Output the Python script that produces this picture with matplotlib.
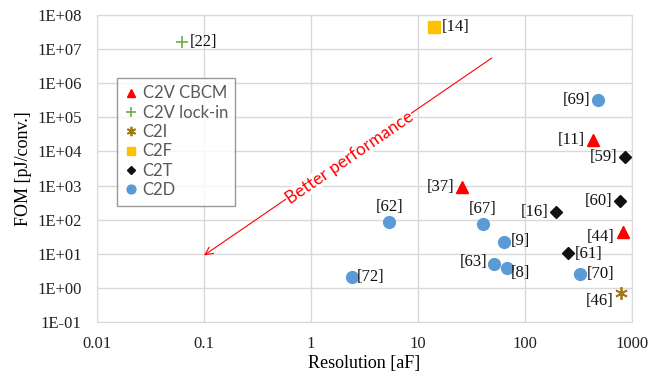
import numpy as np
import matplotlib
matplotlib.use("Agg")
import matplotlib.pyplot as plt

plt.rcParams.update({
    "font.family": "Liberation Serif",
    "font.size": 11,
})

# ---------------- data ----------------
cbcm_x = [432, 25.8, 824]
cbcm_y = [2.2e4, 900, 43]
cbcm_lbl = ["[11]", "[37]", "[44]"]

lockin_x = [0.062]
lockin_y = [1.6e7]
lockin_lbl = ["[22]"]

c2i_x = [790]
c2i_y = [0.7]
c2i_lbl = ["[46]"]

c2f_x = [14.0]
c2f_y = [4.6e7]
c2f_lbl = ["[14]"]

c2t_x = [860, 780, 195, 250]
c2t_y = [6.9e3, 354, 166, 10.5]
c2t_lbl = ["[59]", "[60]", "[16]", "[61]"]

c2d_x = [480, 5.4, 40.5, 63, 51, 68, 2.4, 330]
c2d_y = [3.2e5, 85, 74, 22, 5.0, 3.8, 2.1, 2.5]
c2d_lbl = ["[69]", "[62]", "[67]", "[9]", "[63]", "[8]", "[72]", "[70]"]

# label placement: (dx, dy) in pixels, horizontal alignment
lbl_pos = {
    "[22]": (8, 0, "left"), "[14]": (8, 0, "left"), "[69]": (-8, 0, "right"),
    "[11]": (-8, 0, "right"), "[59]": (-8, 0, "right"), "[37]": (-8, 0, "right"),
    "[60]": (-8, 0, "right"), "[16]": (-8, 0, "right"), "[62]": (0, 15, "center"),
    "[67]": (0, 15, "center"), "[44]": (-8, -5, "right"), "[9]": (7, 1, "left"),
    "[61]": (7, -1, "left"), "[63]": (-6, 2, "right"), "[8]": (4, -5, "left"),
    "[72]": (5, 0, "left"), "[70]": (6, 0, "left"), "[46]": (-8, -8, "right"),
}

series = [
    (cbcm_x, cbcm_y, cbcm_lbl, "C2V CBCM", dict(marker="^", color="#FF0000", ms=8)),
    (lockin_x, lockin_y, lockin_lbl, "C2V lock-in", dict(marker="+", color="#70AD47", ms=9, mew=1.2)),
    (c2i_x, c2i_y, c2i_lbl, "C2I", dict(marker=(6, 2, 0), color="#A07A1A", ms=9, mew=1.3)),
    (c2f_x, c2f_y, c2f_lbl, "C2F", dict(marker="s", color="#FFC000", ms=8)),
    (c2t_x, c2t_y, c2t_lbl, "C2T", dict(marker="D", color="#111111", ms=6)),
    (c2d_x, c2d_y, c2d_lbl, "C2D", dict(marker="o", color="#5B9BD5", ms=8.5)),
]

# arrow ends and text anchor
arrow_start = (49, 5.5e6)
arrow_end = (0.1, 9)
arrow_text_at = (2.3, 6500)

# ---------------- plot ----------------
fig = plt.figure(figsize=(6.67, 3.75), dpi=100)
ax = fig.add_axes([0.1454, 0.1413, 0.8021, 0.8187])
ax.set_xscale("log")
ax.set_yscale("log")
ax.set_xlim(0.01, 1000)
ax.set_ylim(0.1, 1e8)

ax.grid(True, which="major", color="#D9D9D9", lw=1.0)
ax.set_axisbelow(True)
for s in ax.spines.values():
    s.set_color("#D9D9D9")
ax.tick_params(which="both", length=0, labelsize=12, colors="#222222")
ax.tick_params(axis="y", pad=11)
ax.tick_params(axis="x", pad=10)
ax.minorticks_off()

xt = [0.01, 0.1, 1, 10, 100, 1000]
ax.set_xticks(xt)
ax.set_xticklabels(["0.01", "0.1", "1", "10", "100", "1000"])
yt = [10.0 ** k for k in range(-1, 9)]
ax.set_yticks(yt)
ax.set_yticklabels(["1E%+03d" % k for k in range(-1, 9)])

for xs, ys, lbls, name, st in series:
    ax.plot(xs, ys, ls="none", label=name, mec=st["color"], mfc=st["color"],
            marker=st["marker"], ms=st["ms"], mew=st.get("mew", 1.0), zorder=3)
    for x, y, t in zip(xs, ys, lbls):
        dx, dy, ha = lbl_pos[t]
        ax.annotate(t, (x, y), xytext=(dx, dy), textcoords="offset pixels",
                    ha=ha, va="center", fontsize=12, color="#111111")

ax.annotate("", xy=arrow_end, xytext=arrow_start,
            arrowprops=dict(arrowstyle="->", color="#FF0000", lw=0.8,
                            mutation_scale=14, shrinkA=0, shrinkB=0))
ax.text(*arrow_text_at, "Better performance", rotation=34.4, rotation_mode="anchor",
        ha="center", va="center", color="#FF0000", fontsize=12.5, family="Lato",
        bbox=dict(fc="white", ec="none", pad=0.3), zorder=4)

leg = ax.legend(loc="upper left", bbox_to_anchor=(0.037, 0.795), frameon=True,
                fancybox=False, edgecolor="#808080", handletextpad=0.3,
                handlelength=0.8, borderpad=0.45, labelspacing=0.2,
                borderaxespad=0, markerscale=0.75,
                prop={"family": "Lato", "size": 12})
leg.get_frame().set_linewidth(1.0)
for txt in leg.get_texts():
    txt.set_color("#595959")

ax.set_xlabel("Resolution [aF]", fontsize=13, labelpad=2)
ax.set_ylabel("FOM [pJ/conv.]", fontsize=13, labelpad=4)

fig.savefig("out.png", dpi=100)
